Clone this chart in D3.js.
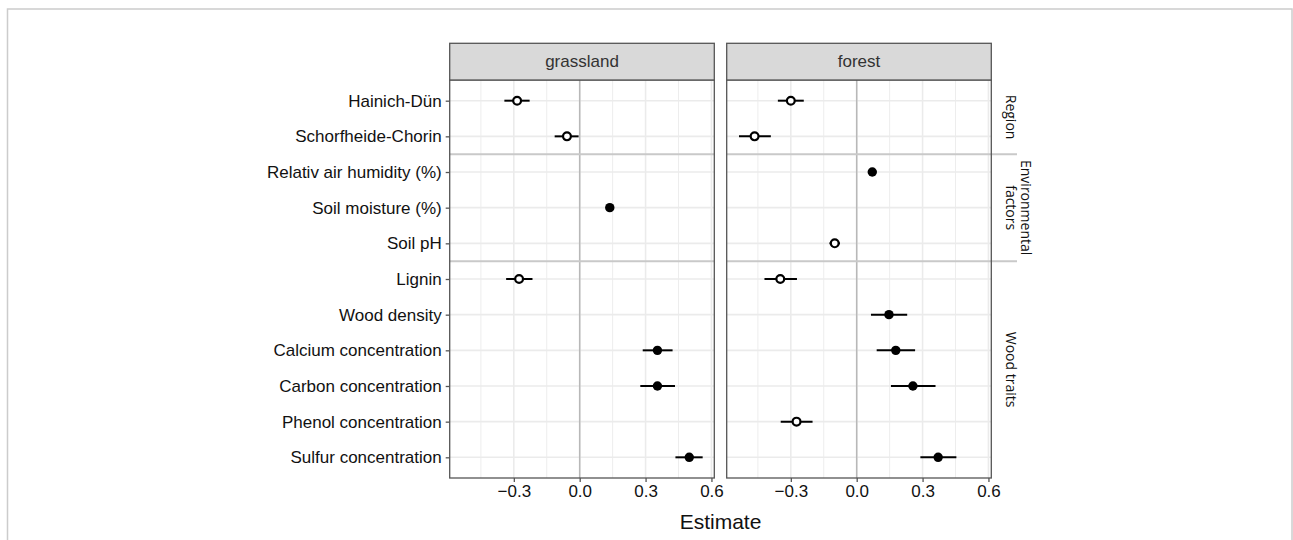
<!DOCTYPE html>
<html>
<head>
<meta charset="utf-8">
<script src="https://cdn.jsdelivr.net/npm/d3@7"></script>
<style>
  body { margin: 0; background: #fff; }
  svg { display: block; }
</style>
</head>
<body>
<svg id="chart" width="1293" height="540"></svg>
<script>
const terms = [
  'Hainich-Dün', 'Schorfheide-Chorin', 'Relativ air humidity (%)', 'Soil moisture (%)',
  'Soil pH', 'Lignin', 'Wood density', 'Calcium concentration', 'Carbon concentration',
  'Phenol concentration', 'Sulfur concentration'
];
const groupNames = ['Region', 'Environmental factors', 'Wood traits'];
const groupOf = [0, 0, 1, 1, 1, 2, 2, 2, 2, 2, 2];
const habitats = ['grassland', 'forest'];
const xTicks = [-0.3, 0.0, 0.3, 0.6];
const xMinor = [-0.45, -0.15, 0.15, 0.45];

// null = term not in that model
const grassEst = [-0.285, -0.058, null, 0.137, null, -0.276, null, 0.354, 0.354, null, 0.499];
const grassLo = [-0.343, -0.114, null, 0.125, null, -0.335, null, 0.287, 0.276, null, 0.436];
const grassHi = [-0.228, -0.005, null, 0.149, null, -0.215, null, 0.423, 0.434, null, 0.560];

const forestEst = [-0.300, -0.465, 0.071, null, -0.100, -0.348, 0.147, 0.178, 0.256, -0.274, 0.371];
const forestLo = [-0.359, -0.536, 0.058, null, -0.124, -0.420, 0.065, 0.091, 0.156, -0.346, 0.290];
const forestHi = [-0.241, -0.391, 0.084, null, -0.076, -0.272, 0.230, 0.266, 0.359, -0.201, 0.454];

function toRows(est, lo, hi) {
  return terms.map((t, i) => ({ term: t, est: est[i], lo: lo[i], hi: hi[i] }))
    .filter((d) => d.est !== null);
}

const panelData = {
  grassland: toRows(grassEst, grassLo, grassHi),
  forest: toRows(forestEst, forestLo, forestHi),
};

function drawChart() {
  const svg = d3.select('svg#chart');
  const panelTop = 80;
  const panelBottom = 478;
  const panelW = 264.6;
  const panelX = { grassland: 449.7, forest: 726.7 };
  const stripTop = 43.3;
  const font = '"Liberation Sans", Arial, sans-serif';

  // outer frame
  svg.append('rect')
    .attr('x', 7.5).attr('y', 9)
    .attr('width', 1284.5).attr('height', 560)
    .attr('fill', 'none')
    .attr('stroke', '#cccccc')
    .attr('stroke-width', 1.5);

  const x = d3.scaleLinear().domain([-0.592, 0.613]).range([0, panelW]);
  const y = d3.scalePoint().domain(terms).range([panelTop, panelBottom]).padding(0.58);
  const step = y.step();

  // group boundaries (between rows of different groups)
  const breaks = [];
  for (let i = 1; i < terms.length; i++) {
    if (groupOf[i] !== groupOf[i - 1]) breaks.push(y(terms[i]) - step / 2);
  }

  habitats.forEach((hab) => {
    const g = svg.append('g')
      .attr('class', 'panel')
      .attr('transform', `translate(${panelX[hab]},0)`);

    g.append('rect')
      .attr('x', 0).attr('y', panelTop)
      .attr('width', panelW).attr('height', panelBottom - panelTop)
      .attr('fill', '#fff');

    g.selectAll('line.minor').data(xMinor).enter()
      .append('line')
      .attr('class', 'minor')
      .attr('x1', (d) => x(d)).attr('x2', (d) => x(d))
      .attr('y1', panelTop).attr('y2', panelBottom)
      .attr('stroke', '#ededed').attr('stroke-width', 1);

    g.selectAll('line.vmajor').data(xTicks).enter()
      .append('line')
      .attr('class', 'vmajor')
      .attr('x1', (d) => x(d)).attr('x2', (d) => x(d))
      .attr('y1', panelTop).attr('y2', panelBottom)
      .attr('stroke', '#ebebeb').attr('stroke-width', 1.6);

    g.selectAll('line.hmajor').data(terms).enter()
      .append('line')
      .attr('class', 'hmajor')
      .attr('x1', 0).attr('x2', panelW)
      .attr('y1', (d) => y(d)).attr('y2', (d) => y(d))
      .attr('stroke', '#ebebeb').attr('stroke-width', 1.6);

    // zero reference
    g.append('line')
      .attr('x1', x(0)).attr('x2', x(0))
      .attr('y1', panelTop).attr('y2', panelBottom)
      .attr('stroke', '#b8b8b8').attr('stroke-width', 1.5);

    // group separators; on the last panel they run through the strip column
    const lineEnd = hab === 'forest' ? 1017 - panelX[hab] : panelW;
    g.selectAll('line.sep').data(breaks).enter()
      .append('line')
      .attr('class', 'sep')
      .attr('x1', 0).attr('x2', lineEnd)
      .attr('y1', (d) => d).attr('y2', (d) => d)
      .attr('stroke', '#c9c9c9').attr('stroke-width', 2);

    const pts = g.selectAll('g.est').data(panelData[hab]).enter()
      .append('g')
      .attr('class', 'est')
      .attr('transform', (d) => `translate(0,${y(d.term)})`);
    pts.append('line')
      .attr('x1', (d) => x(d.lo)).attr('x2', (d) => x(d.hi))
      .attr('stroke', '#000').attr('stroke-width', 2);
    pts.each(function(d) {
      const c = d3.select(this).append('circle').attr('cx', x(d.est));
      if (d.est > 0) {
        c.attr('r', 4.7).attr('fill', '#000');
      } else {
        c.attr('r', 3.9).attr('fill', '#fff')
          .attr('stroke', '#000').attr('stroke-width', 2.2);
      }
    });

    g.append('rect')
      .attr('x', 0).attr('y', panelTop)
      .attr('width', panelW).attr('height', panelBottom - panelTop)
      .attr('fill', 'none')
      .attr('stroke', '#555').attr('stroke-width', 1.3);

    // strip header
    g.append('rect')
      .attr('x', 0).attr('y', stripTop)
      .attr('width', panelW).attr('height', panelTop - stripTop)
      .attr('fill', '#d9d9d9')
      .attr('stroke', '#555').attr('stroke-width', 1.3);
    g.append('text')
      .attr('x', panelW / 2).attr('y', (stripTop + panelTop) / 2)
      .attr('text-anchor', 'middle')
      .attr('dominant-baseline', 'central')
      .attr('font-family', font)
      .attr('font-size', '17px')
      .attr('fill', '#333')
      .text(hab);

    // x axis
    const axis = g.append('g')
      .attr('transform', `translate(0,${panelBottom})`)
      .call(d3.axisBottom(x).tickValues(xTicks).tickFormat(d3.format('.1f'))
        .tickSize(4).tickPadding(3));
    axis.select('.domain').remove();
    axis.selectAll('.tick line').attr('stroke', '#555').attr('stroke-width', 1.3);
    axis.selectAll('.tick text')
      .attr('font-family', font)
      .attr('font-size', '17px')
      .attr('fill', '#111');
  });

  // y axis on the left panel
  const yAxis = svg.append('g')
    .attr('transform', `translate(${panelX.grassland},0)`)
    .call(d3.axisLeft(y).tickSize(4).tickPadding(4));
  yAxis.select('.domain').remove();
  yAxis.selectAll('.tick line').attr('stroke', '#555').attr('stroke-width', 1.3);
  yAxis.selectAll('.tick text')
    .attr('font-family', font)
    .attr('font-size', '17px')
    .attr('fill', '#111');

  // right strip labels
  const bounds = [panelTop].concat(breaks, [panelBottom]);
  groupNames.forEach((name, i) => {
    const cy = (bounds[i] + bounds[i + 1]) / 2;
    const words = name === 'Environmental factors' ? ['Environmental', 'factors'] : [name];
    const t = svg.append('text')
      .attr('transform', `translate(1011.5,${cy}) rotate(90)`)
      .attr('text-anchor', 'middle')
      .attr('font-family', '"Open Sans", sans-serif')
      .attr('font-size', '14px')
      .attr('fill', '#111');
    words.forEach((w, j) => {
      t.append('tspan')
        .attr('x', 0)
        .attr('y', (j - words.length + 1) * 15)
        .attr('dominant-baseline', 'central')
        .text(w);
    });
  });

  svg.append('text')
    .attr('x', (panelX.grassland + panelX.forest + panelW) / 2)
    .attr('y', 529)
    .attr('text-anchor', 'middle')
    .attr('font-family', font)
    .attr('font-size', '21px')
    .attr('fill', '#111')
    .text('Estimate');
}

window.addEventListener('load', function() {
  drawChart();
});
</script>
</body>
</html>
